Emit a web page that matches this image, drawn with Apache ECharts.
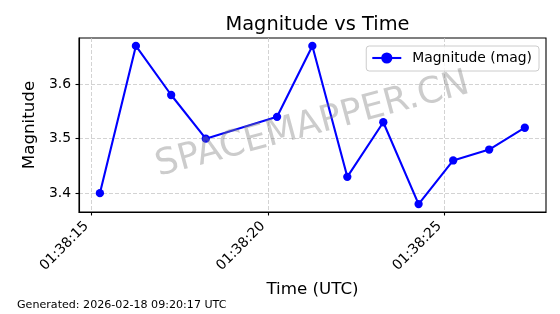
<!DOCTYPE html>
<html>
<head>
<meta charset="utf-8">
<script src="https://cdn.jsdelivr.net/npm/echarts@6/dist/echarts.min.js"></script>
<style>
html,body{margin:0;padding:0;background:#fff;}
#chart{width:560px;height:314px;}
</style>
</head>
<body>
<div id="chart"></div>
<script>
// ---- data ----
const times = ['01:38:15.24','01:38:16.26','01:38:17.26','01:38:18.24','01:38:20.26','01:38:21.26',
               '01:38:22.25','01:38:23.27','01:38:24.27','01:38:25.25','01:38:26.27','01:38:27.28'];
const magnitudes = [3.40, 3.67, 3.58, 3.50, 3.54, 3.67, 3.43, 3.53, 3.38, 3.46, 3.48, 3.52];
const xTickLabels = ['01:38:15', '01:38:20', '01:38:25'];
const yTickValues = [3.4, 3.5, 3.6];
const seriesName = 'Magnitude (mag)';
const titleText = 'Magnitude vs Time';
const xName = 'Time (UTC)';
const yName = 'Magnitude';
const footerText = 'Generated: 2026-02-18 09:20:17 UTC';
const watermarkText = 'SPACEMAPPER.CN';

function toSec(s){ const p = s.split(':'); return (+p[0])*3600 + (+p[1])*60 + parseFloat(p[2]); }
function fmt(v){
  const t = Math.round(v);
  const h = Math.floor(t/3600), m = Math.floor((t%3600)/60), s = t%60;
  const z = n => String(n).padStart(2,'0');
  return z(h)+':'+z(m)+':'+z(s);
}
const xs = times.map(toSec);
const xTickVals = xTickLabels.map(toSec);
const data = xs.map((x,i)=>[x, magnitudes[i]]);

const xMin = toSec('01:38:14.648'), xMax = toSec('01:38:27.88');
const yMin = 3.3655, yMax = 3.6845;

const FONT = 'DejaVu Sans';
const GL = {left:79, top:38, right:14, bottom:102};

const chart = echarts.init(document.getElementById('chart'), null, {renderer:'canvas'});
chart.setOption({
  animation:false,
  backgroundColor:'#fff',
  textStyle:{fontFamily:FONT},
  title:{
    text:titleText, left:312.5, top:10, textAlign:'center',
    textStyle:{fontFamily:FONT, fontSize:19.4, fontWeight:'normal', color:'#000'}
  },
  legend:{
    right:21, top:46, orient:'vertical',
    padding:[5,7,6,5],
    itemWidth:29, itemHeight:14, itemGap:4,
    backgroundColor:'rgba(255,255,255,0.8)',
    borderColor:'#cccccc', borderWidth:1, borderRadius:3,
    lineStyle:{width:2.1, color:'#0000ff'},
    itemStyle:{color:'#0000ff'},
    textStyle:{fontFamily:FONT, fontSize:13.9, color:'#000', padding:[0,0,0,6]},
    data:[seriesName]
  },
  grid:{left:GL.left, top:GL.top, right:GL.right, bottom:GL.bottom, show:true, borderColor:'#000', borderWidth:1.1, containLabel:false},
  xAxis:{
    type:'value', min:xMin, max:xMax,
    name:xName, nameLocation:'middle', nameGap:69,
    nameTextStyle:{fontFamily:FONT, fontSize:16.7, color:'#000'},
    axisLine:{show:true, lineStyle:{color:'#000', width:1.1}},
    axisTick:{show:true, length:3.5, customValues:xTickVals, lineStyle:{color:'#000', width:1.1}},
    axisLabel:{customValues:xTickVals, rotate:45, margin:17, verticalAlign:'bottom', formatter:fmt,
      fontFamily:FONT, fontSize:13.9, color:'#000'},
    splitLine:{show:true, lineStyle:{color:'#c8c8c8', type:[4,2], width:0.8}}
  },
  yAxis:{
    type:'value', min:yMin, max:yMax,
    name:yName, nameLocation:'middle', nameGap:38, nameRotate:90,
    nameTextStyle:{fontFamily:FONT, fontSize:16.7, color:'#000'},
    axisLine:{show:true, lineStyle:{color:'#000', width:1.1}},
    axisTick:{show:true, length:3.5, customValues:yTickValues, lineStyle:{color:'#000', width:1.1}},
    axisLabel:{customValues:yTickValues, margin:8, formatter:v=>v.toFixed(1),
      fontFamily:FONT, fontSize:13.9, color:'#000'},
    splitLine:{show:true, lineStyle:{color:'#c8c8c8', type:[4,2], width:0.8}}
  },
  graphic:[
    {type:'text', left:17, top:300, z:10,
     style:{text:footerText, fontFamily:FONT, fontSize:11.1, fill:'#000'}},
    {type:'text', x:312.5, y:125, rotation:15*Math.PI/180, z:100, silent:true,
     style:{text:watermarkText, fontFamily:FONT, fontSize:36, fill:'rgba(128,128,128,0.4)',
            textAlign:'center', textVerticalAlign:'middle'}}
  ],
  series:[{
    name:seriesName, type:'line', data:data,
    symbol:'circle', symbolSize:8.3, showSymbol:true,
    lineStyle:{color:'#0000ff', width:2.1},
    itemStyle:{color:'#0000ff'},
    z:3
  }]
});
</script>
</body>
</html>
